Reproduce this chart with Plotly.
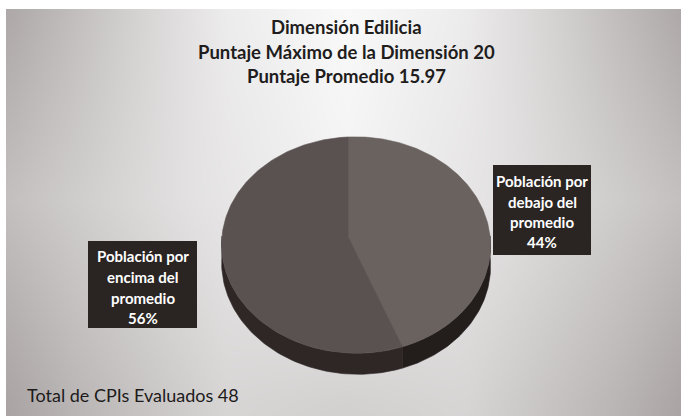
import numpy as np
import plotly.graph_objects as go

# ---- chart content ----
title_lines = [
    "Dimensión Edilicia",
    "Puntaje Máximo de la Dimensión 20",
    "Puntaje Promedio 15.97",
]
categories = ["Población por debajo del promedio", "Población por encima del promedio"]
shares = [44, 56]
label_lines = [
    ["Población por", "debajo del", "promedio"],
    ["Población por", "encima del", "promedio"],
]
footer_text = "Total de CPIs Evaluados 48"

# ---- styling ----
W, H = 681, 416
top_colors = ["#69625f", "#5a5251"]
side_colors = ["#231d1c", "#2e2726"]
box_color = "#2a2523"
FONT = "Lato"

# 3D pie projection parameters (pixel space)
CX, CY = 348.0, 236.0      # pivot of the slices
F, G = 133.5, 107.25       # horizontal / vertical radii
S, Q = 0.0833, -0.06       # perspective terms (depth, sideways)
DEPTH = 21.0


def project(t, drop=0.0):
    X = np.sin(t)
    Y = np.cos(t)
    den = 1 + S * Y + Q * X
    x = CX + F * X / den
    y = CY - G * Y / den + drop * (1 - S) / den
    return x, y


fig = go.Figure()

# ---- background gradient ----
gx = np.linspace(0, W, 46)
gy = np.linspace(0, H, 32)
u = np.clip(np.abs(gx - 345) / 340, 0, 1)
top_row = np.interp(u, [0, 0.35, 0.65, 1], [250, 237, 206, 166])
mid_row = np.interp(u, [0, 0.45, 0.8, 1], [243, 226, 205, 192])
bot_row = np.interp(u, [0, 0.35, 0.8, 1], [208, 213, 182, 164])
vv = np.clip((gy - 200) / 210, -1, 1)
z = np.empty((len(gy), len(gx)))
for j in range(len(gx)):
    z[:, j] = np.interp(vv, [-1, 0, 1], [top_row[j], mid_row[j], bot_row[j]])

fig.add_trace(go.Heatmap(
    x=gx, y=gy, z=z, zsmooth="best", zmin=150, zmax=252,
    colorscale=[[0, "rgb(155,148,148)"], [1, "rgb(252,252,252)"]],
    showscale=False, hoverinfo="skip",
))

# ---- pie slices ----
fractions = np.array(shares, dtype=float) / sum(shares)
bounds = np.concatenate([[0], np.cumsum(fractions)]) * 2 * np.pi

# side walls (front half only)
for i in range(len(shares)):
    a0 = max(bounds[i], np.pi / 2)
    a1 = min(bounds[i + 1], 3 * np.pi / 2)
    if a1 <= a0:
        continue
    t = np.linspace(a0, a1, 80)
    xt, yt = project(t)
    xb, yb = project(t[::-1], DEPTH)
    fig.add_trace(go.Scatter(
        x=np.concatenate([xt, xb, xt[:1]]),
        y=np.concatenate([yt, yb, yt[:1]]),
        fill="toself", fillcolor=side_colors[i], mode="lines",
        line=dict(width=0.6, color=side_colors[i]), hoverinfo="skip",
    ))

# top faces
for i in range(len(shares)):
    t = np.linspace(bounds[i], bounds[i + 1], 160)
    xa, ya = project(t)
    fig.add_trace(go.Scatter(
        x=np.concatenate([[CX], xa, [CX]]),
        y=np.concatenate([[CY], ya, [CY]]),
        fill="toself", fillcolor=top_colors[i], mode="lines",
        line=dict(width=0.6, color=top_colors[i]),
        name=categories[i], hoverinfo="skip",
    ))

# ---- data labels (dark boxes) ----
label_boxes = [
    dict(x0=493, x1=591, y0=165, y1=255, ys=[181, 201.5, 222, 242], xc=542),
    dict(x0=88, x1=197, y0=241, y1=328, ys=[256, 277, 298, 318], xc=142.5),
]
shapes = []
annotations = []
for i, box in enumerate(label_boxes):
    shapes.append(dict(type="rect", xref="x", yref="y",
                       x0=box["x0"], x1=box["x1"], y0=box["y0"], y1=box["y1"],
                       fillcolor=box_color, line=dict(width=0), layer="above"))
    lines = label_lines[i] + [f"{shares[i]}%"]
    for txt, yc in zip(lines, box["ys"]):
        annotations.append(dict(
            x=box["xc"], y=yc, xref="x", yref="y", text=f"<b>{txt}</b>",
            showarrow=False, xanchor="center", yanchor="middle",
            font=dict(family=FONT, size=15, color="white"),
        ))

# ---- title ----
for txt, yc in zip(title_lines, [27, 51.5, 76]):
    annotations.append(dict(
        x=346, y=yc, xref="x", yref="y", text=f"<b>{txt}</b>",
        showarrow=False, xanchor="center", yanchor="middle",
        font=dict(family=FONT, size=18.5, color="#1f1d1d"),
    ))

# ---- footer ----
annotations.append(dict(
    x=25, y=395, xref="x", yref="y", text=footer_text,
    showarrow=False, xanchor="left", yanchor="middle",
    font=dict(family=FONT, size=18, color="#1c1a1a"),
))

# white edge strips at top and left
shapes.append(dict(type="rect", xref="x", yref="y", x0=0, x1=W, y0=0, y1=9,
                   fillcolor="white", line=dict(width=0), layer="above"))
shapes.append(dict(type="rect", xref="x", yref="y", x0=0, x1=6, y0=0, y1=H,
                   fillcolor="white", line=dict(width=0), layer="above"))

fig.update_layout(
    width=W, height=H, autosize=False,
    margin=dict(l=0, r=0, t=0, b=0, pad=0),
    paper_bgcolor="white", plot_bgcolor="white",
    showlegend=False,
    shapes=shapes, annotations=annotations,
    xaxis=dict(range=[0, W], visible=False, fixedrange=True),
    yaxis=dict(range=[H, 0], visible=False, fixedrange=True),
)

fig.write_html("out.html", config={"displayModeBar": False})
